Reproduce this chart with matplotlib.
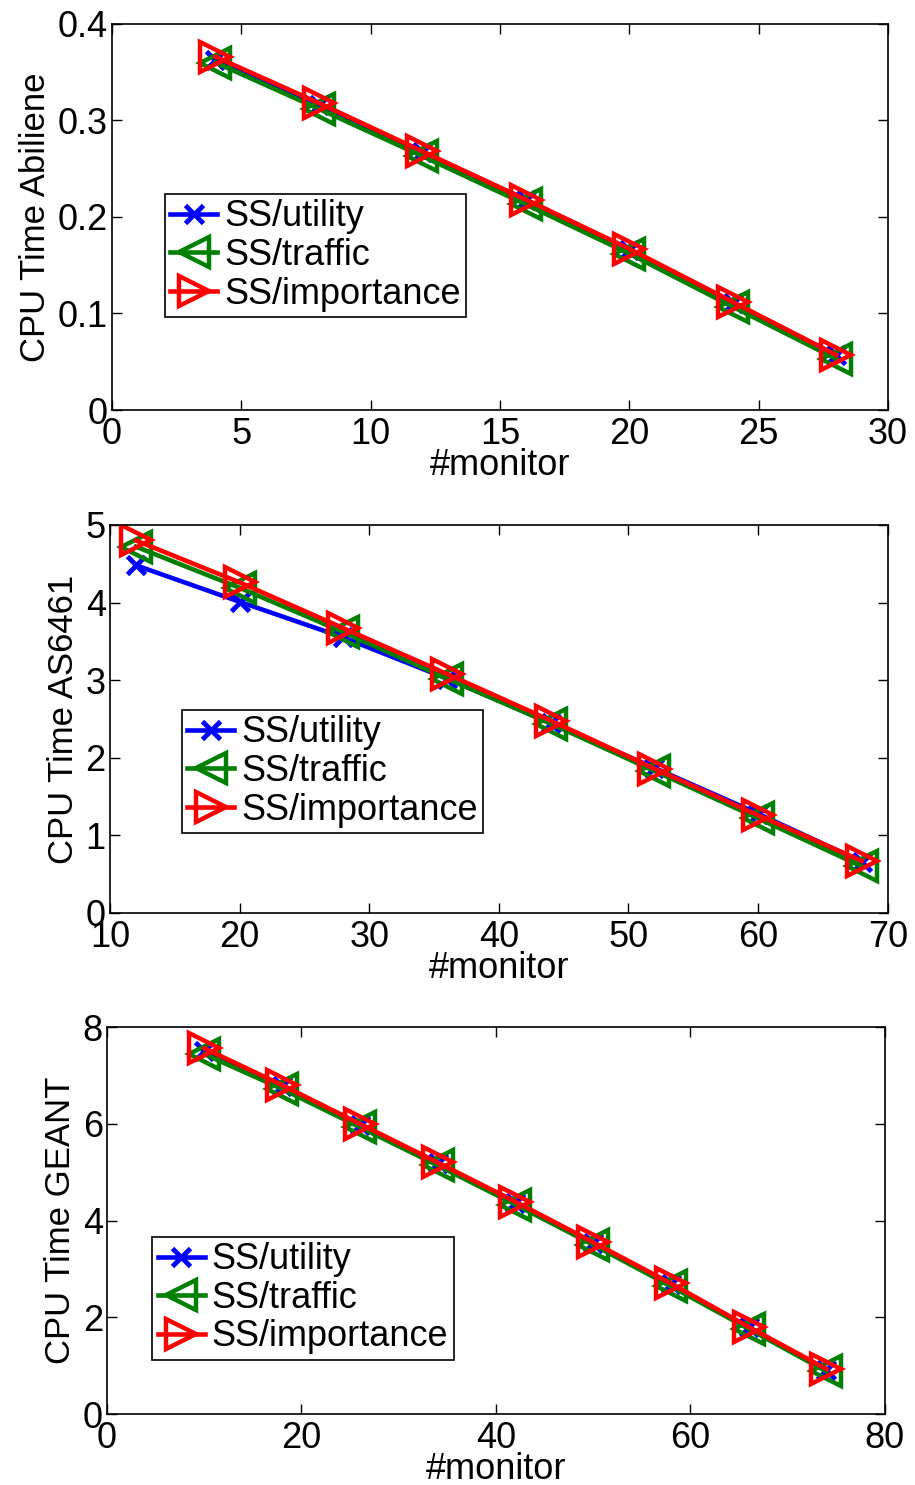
import numpy as np
import matplotlib
matplotlib.use('Agg')
import matplotlib.pyplot as plt
from matplotlib.ticker import FormatStrFormatter, MultipleLocator

# Abilene
x_abi = [4, 8, 12, 16, 20, 24, 28]
abi_utility = [0.363, 0.316, 0.267, 0.218, 0.166, 0.111, 0.057]
abi_traffic = [0.360, 0.312, 0.263, 0.213, 0.162, 0.107, 0.053]
abi_importance = [0.366, 0.318, 0.268, 0.218, 0.167, 0.112, 0.057]

# AS6461
x_as = [12, 20, 28, 36, 44, 52, 60, 68]
as_utility = [4.48, 4.01, 3.55, 3.02, 2.45, 1.87, 1.28, 0.66]
as_traffic = [4.72, 4.19, 3.62, 3.02, 2.44, 1.83, 1.22, 0.60]
as_importance = [4.80, 4.26, 3.67, 3.08, 2.48, 1.86, 1.26, 0.67]

# GEANT
x_geant = [10, 18, 26, 34, 42, 50, 58, 66, 74]
geant_utility = [7.50, 6.78, 5.98, 5.19, 4.37, 3.53, 2.68, 1.79, 0.91]
geant_traffic = [7.44, 6.72, 5.93, 5.14, 4.33, 3.50, 2.64, 1.76, 0.88]
geant_importance = [7.56, 6.80, 6.00, 5.20, 4.39, 3.55, 2.70, 1.80, 0.93]

labels = ['SS/utility', 'SS/traffic', 'SS/importance']

plt.rcParams['font.family'] = ['Liberation Sans', 'DejaVu Sans']
plt.rcParams['font.size'] = 26

fig = plt.figure(figsize=(9.15, 14.85), dpi=100)

panels = [
    (x_abi, abi_utility, abi_traffic, abi_importance, 'CPU Time Abiliene',
     [0.1224, 0.7239, 0.848, 0.26], (0, 30), 5, (0, 0.4), 0.1, (0.068, 0.241)),
    (x_as, as_utility, as_traffic, as_importance, 'CPU Time AS6461',
     [0.1202, 0.3852, 0.850, 0.2613], (10, 70), 10, (0, 5), 1, (0.0925, 0.206)),
    (x_geant, geant_utility, geant_traffic, geant_importance, 'CPU Time GEANT',
     [0.117, 0.0478, 0.850, 0.2606], (0, 80), 20, (0, 8), 2, (0.058, 0.14)),
]

for (x, u, t, imp, ylab, pos, xl, xstep, yl, ystep, legpos) in panels:
    ax = fig.add_axes(pos)
    ax.plot(x, u, color='blue', marker='x', lw=3.3, ms=13, mew=3.5, label=labels[0])
    ax.plot(x, t, color='green', marker='<', lw=3.3, ms=21, mew=3.2,
            mfc='none', label=labels[1])
    ax.plot(x, imp, color='red', marker='>', lw=3.3, ms=21, mew=3.2,
            mfc='none', label=labels[2])
    ax.set_xlim(*xl)
    ax.set_ylim(*yl)
    ax.xaxis.set_major_locator(MultipleLocator(xstep))
    ax.yaxis.set_major_locator(MultipleLocator(ystep))
    ax.yaxis.set_major_formatter(FormatStrFormatter('%g'))
    ax.set_xlabel('#monitor', labelpad=-3)
    ax.set_ylabel(ylab, fontsize=25, labelpad=4)
    ax.tick_params(direction='in', top=True, right=True, length=7, width=1)
    ax.tick_params(axis='x', pad=5)
    ax.tick_params(axis='y', pad=3)
    for s in ax.spines.values():
        s.set_linewidth(1.2)
    leg = ax.legend(loc='lower left', bbox_to_anchor=legpos, borderaxespad=0,
                    fancybox=False, edgecolor='black', framealpha=1,
                    handlelength=1.3, handletextpad=0.2, labelspacing=0.1,
                    borderpad=0.15, fontsize=26)
    leg.get_frame().set_linewidth(1.2)

fig.savefig('out.png', dpi=100)
